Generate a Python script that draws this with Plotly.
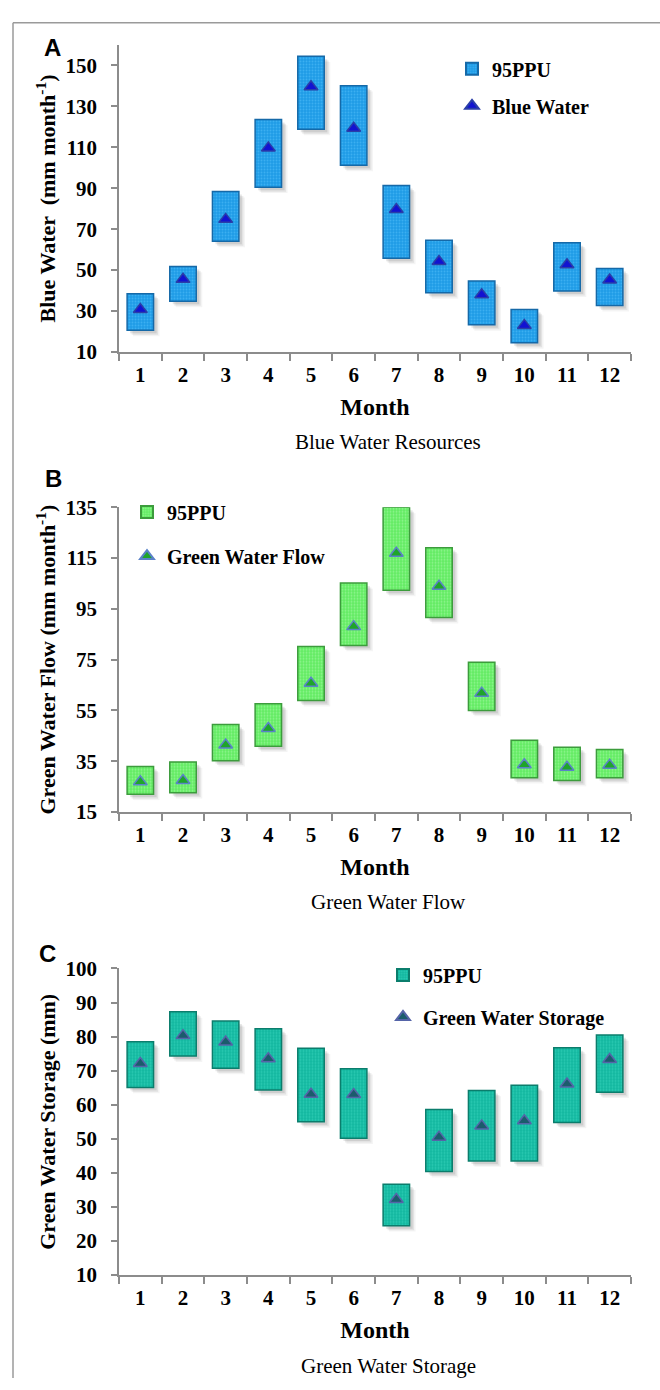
import plotly.graph_objects as go

# ---- data -------------------------------------------------------------
months = list(range(1, 13))
month_labels = [str(m) for m in months]

# Blue water resources (mm month-1)
blue_lower = [20.6, 34.8, 64.1, 90.5, 118.8, 101.2, 55.8, 38.9, 23.3, 14.5, 39.8, 32.7]
blue_upper = [38.5, 51.8, 88.4, 123.6, 154.5, 140.1, 91.3, 64.6, 44.7, 30.8, 63.4, 50.8]
blue_value = [30.8, 45.5, 74.8, 109.7, 139.6, 119.3, 79.6, 54.2, 38.0, 23.0, 52.6, 45.2]

# Green water flow (mm month-1)
gwf_lower = [22.0, 22.6, 35.2, 40.9, 58.9, 80.6, 102.3, 91.6, 55.0, 28.5, 27.4, 28.5]
gwf_upper = [32.9, 34.7, 49.4, 57.6, 80.2, 105.2, 135.0, 119.1, 74.0, 43.2, 40.5, 39.6]
gwf_value = [26.9, 27.4, 41.4, 47.9, 65.7, 88.0, 116.9, 103.9, 61.8, 33.6, 32.6, 33.4]

# Green water storage (mm)
gws_lower = [65.1, 74.3, 70.7, 64.3, 55.0, 50.2, 24.5, 40.4, 43.5, 43.5, 54.8, 63.7]
gws_upper = [78.5, 87.3, 84.6, 82.3, 76.6, 70.6, 36.7, 58.6, 64.2, 65.7, 76.7, 80.5]
gws_value = [72.1, 80.3, 78.4, 73.5, 63.1, 63.0, 32.2, 50.5, 53.8, 55.3, 66.1, 73.3]

# ---- styling ----------------------------------------------------------
W, H = 660, 1390
L, R = 119, 29
SERIF = "Liberation Serif, Times New Roman, serif"
SANS = "Liberation Sans, Arial, sans-serif"
AXIS_GRAY = "#8c8c8c"
BAR_W = 0.62
PX_PER_X = (W - L - R) / 12.0

panels = [
    dict(lo=blue_lower, hi=blue_upper, val=blue_value,
         rng=[10, 160], dtick=20, t0=10, top=33.5, bot=346.0,
         fill="#1e9be6", dot="#3db0f2", edge="#1569a8",
         tri="#1212d2", tri_edge="#2a3ea8",
         name="Blue Water", ytitle="Blue Water  (mm month<sup>-1</sup>)",
         caption="Blue Water Resources", letter="A", letter_xy=(52, 36),
         legend_xy=(452, 38), legend_gap=8),
    dict(lo=gwf_lower, hi=gwf_upper, val=gwf_value,
         rng=[15, 135], dtick=20, t0=15, top=504.0, bot=814.0,
         fill="#62ec62", dot="#8ff58f", edge="#3c9c3c",
         tri="#1fa52a", tri_edge="#5a82c8",
         name="Green Water Flow", ytitle="Green Water Flow (mm month<sup>-1</sup>)",
         caption="Green Water Flow", letter="B", letter_xy=(53, 475),
         legend_xy=(127, 489), legend_gap=15),
    dict(lo=gws_lower, hi=gws_upper, val=gws_value,
         rng=[10, 100], dtick=10, t0=10, top=973.3, bot=1285.3,
         fill="#13b8a0", dot="#2ccbb3", edge="#0b7d6c",
         tri="#1b5c6c", tri_edge="#5564a8",
         name="Green Water Storage", ytitle="Green Water Storage (mm)",
         caption="Green Water Storage", letter="C", letter_xy=(47, 958),
         legend_xy=(383, 960), legend_gap=13),
]

fig = go.Figure()
annotations = []


def px_to_paper_x(px):
    return (px - L) / (W - L - R)


def px_to_paper_y(py):
    return 1 - py / H


for i, p in enumerate(panels):
    k = "" if i == 0 else str(i + 1)
    xa, ya = "x" + k, "y" + k
    leg = "legend" + k
    units_per_px = (p["rng"][1] - p["rng"][0]) / (p["bot"] - p["top"])
    heights = [h - l for l, h in zip(p["lo"], p["hi"])]

    # soft drop shadow behind each 95PPU box
    for s, a in [(6, 0.06), (4.5, 0.09), (3, 0.12)]:
        fig.add_trace(go.Bar(
            x=months, y=heights,
            base=[l - s * units_per_px for l in p["lo"]],
            width=BAR_W, offset=-BAR_W / 2 + s / PX_PER_X,
            marker=dict(color=f"rgba(60,60,60,{a})", line=dict(width=0)),
            xaxis=xa, yaxis=ya, showlegend=False, hoverinfo="skip"))

    # 95PPU band
    fig.add_trace(go.Bar(
        x=months, y=heights, base=p["lo"], width=BAR_W,
        name="95PPU",
        marker=dict(color=p["fill"],
                    line=dict(color=p["edge"], width=1.5),
                    pattern=dict(shape=".", fgcolor=p["dot"], bgcolor=p["fill"],
                                 size=3, solidity=0.35, fillmode="replace")),
        xaxis=xa, yaxis=ya, legend=leg, legendgroup="ppu" + k))

    # simulated value
    fig.add_trace(go.Scatter(
        x=months, y=p["val"], mode="markers", name=p["name"],
        marker=dict(symbol="triangle-up", size=12, color=p["tri"],
                    line=dict(color=p["tri_edge"], width=1.5)),
        xaxis=xa, yaxis=ya, legend=leg, legendgroup="val" + k))

    dom = [px_to_paper_y(p["bot"]), px_to_paper_y(p["top"])]
    tickvals = list(range(p["t0"], p["rng"][1] + 1, p["dtick"]))

    fig.update_layout({
        "xaxis" + k: dict(
            domain=[0, 1], anchor=ya, range=[0.5, 12.5],
            tickvals=months, ticktext=month_labels, ticks="",
            showline=True, linecolor=AXIS_GRAY, linewidth=1.5,
            showgrid=False, zeroline=False,
            tickfont=dict(family=SERIF, size=21, color="black", weight="bold"),
            ticklabelstandoff=3,
            minor=dict(tickvals=[m - 0.5 for m in months] + [12.5],
                       ticks="outside", ticklen=7, tickcolor=AXIS_GRAY,
                       tickwidth=1.5, showgrid=False),
            title=dict(text="<b>Month</b>",
                       font=dict(family=SERIF, size=24, color="black"),
                       standoff=12),
        ),
        "yaxis" + k: dict(
            domain=dom, anchor=xa, range=p["rng"],
            tickvals=tickvals, ticks="outside", ticklen=6,
            tickcolor=AXIS_GRAY, tickwidth=1.5,
            showline=True, linecolor=AXIS_GRAY, linewidth=1.5,
            showgrid=False, zeroline=False,
            tickfont=dict(family=SERIF, size=21, color="black", weight="bold"),
            ticklabelstandoff=10,
            title=dict(text="<b>" + p["ytitle"] + "</b>",
                       font=dict(family=SERIF, size=22, color="black"),
                       standoff=4),
        ),
        leg: dict(font=dict(family=SERIF, size=20, color="black", weight="bold"),
                  bgcolor="rgba(0,0,0,0)", tracegroupgap=p["legend_gap"],
                  xanchor="left", yanchor="top", itemsizing="constant",
                  x=px_to_paper_x(p["legend_xy"][0]),
                  y=px_to_paper_y(p["legend_xy"][1])),
    })

    # caption under each panel
    annotations.append(dict(
        text=p["caption"], xref="paper", yref="paper",
        x=px_to_paper_x(388), y=px_to_paper_y(p["bot"] + 92),
        xanchor="center", yanchor="middle", showarrow=False,
        font=dict(family=SERIF, size=21, color="black")))
    # panel letter
    annotations.append(dict(
        text="<b>" + p["letter"] + "</b>", xref="paper", yref="paper",
        x=px_to_paper_x(p["letter_xy"][0]), y=px_to_paper_y(p["letter_xy"][1]),
        xanchor="center", yanchor="middle", showarrow=False,
        font=dict(family=SANS, size=24, color="black")))

fig.update_layout(
    width=W, height=H,
    margin=dict(l=L, r=R, t=0, b=0),
    paper_bgcolor="white", plot_bgcolor="white",
    barmode="overlay", showlegend=True,
    annotations=annotations,
    shapes=[
        dict(type="line", xref="paper", yref="paper",
             x0=px_to_paper_x(13), x1=px_to_paper_x(13),
             y0=0, y1=px_to_paper_y(11), line=dict(color="#9a9a9a", width=1.5)),
        dict(type="line", xref="paper", yref="paper",
             x0=px_to_paper_x(13), x1=px_to_paper_x(W),
             y0=px_to_paper_y(11), y1=px_to_paper_y(11),
             line=dict(color="#9a9a9a", width=1.5)),
    ],
)

fig.write_html("out.html")
